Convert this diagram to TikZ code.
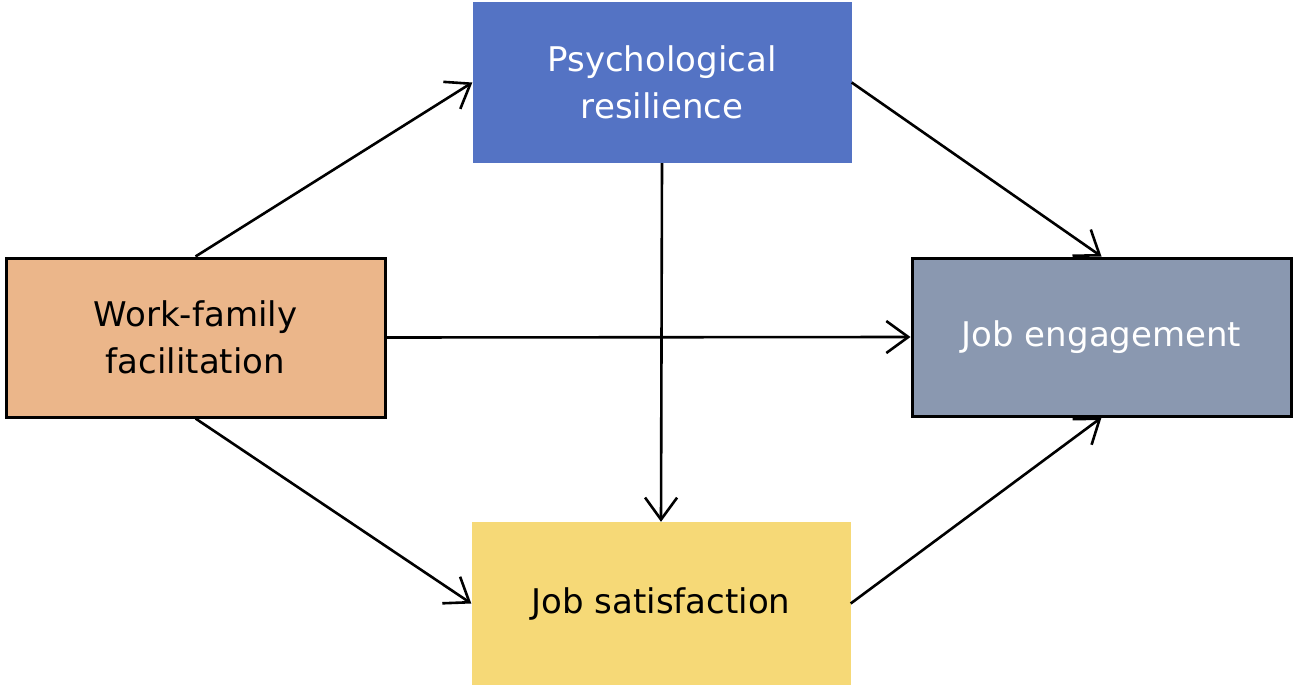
\documentclass[tikz,border=0pt]{standalone}
\usepackage{fontspec}
\setmainfont{DejaVu Sans}
\usepackage{tikz}
\usepackage{xcolor}
\usetikzlibrary{arrows.meta}
\definecolor{box_wf}{HTML}{EBB68A}
\definecolor{box_pr}{HTML}{5473C4}
\definecolor{box_je}{HTML}{8A98B0}
\definecolor{box_js}{HTML}{F6D977}
\tikzset{
    varbox/.style={minimum width=379pt,minimum height=159pt,inner sep=0pt,
      align=center,font=\fontsize{34}{47}\selectfont},
    framed/.style={draw=black,line width=3pt},
    path_arrow/.style={-{Straight Barb[length=22pt,width=32pt,line width=2.6pt]},line width=2.6pt},
}
\begin{document}
\begin{tikzpicture}[x=1pt,y=-1pt]
  \useasboundingbox (0,0) rectangle (1298,690);
  % Variables
  \node[varbox,framed,fill=box_wf] (WF) at (195.5,337.5) {Work-family\\facilitation};
  \node[varbox,fill=box_pr,text=white,minimum height=161pt] (PR) at (662,82.5) {Psychological\\resilience};
  \node[varbox,framed,fill=box_je,text=white,minimum height=158pt] (JE) at (1101.5,337) {Job engagement};
  \node[varbox,fill=box_js,minimum height=163pt] (JS) at (661,603.5) {Job satisfaction};
  % Paths
  \draw[path_arrow] (WF.north) -- (PR.west);
  \draw[path_arrow] (WF.east) -- (JE.west);
  \draw[path_arrow] (WF.south) -- (JS.west);
  \draw[path_arrow] (PR.south) -- (JS.north);
  \draw[path_arrow] (PR.east) -- (JE.north);
  \draw[path_arrow] (JS.east) -- (JE.south);
\end{tikzpicture}
\end{document}
